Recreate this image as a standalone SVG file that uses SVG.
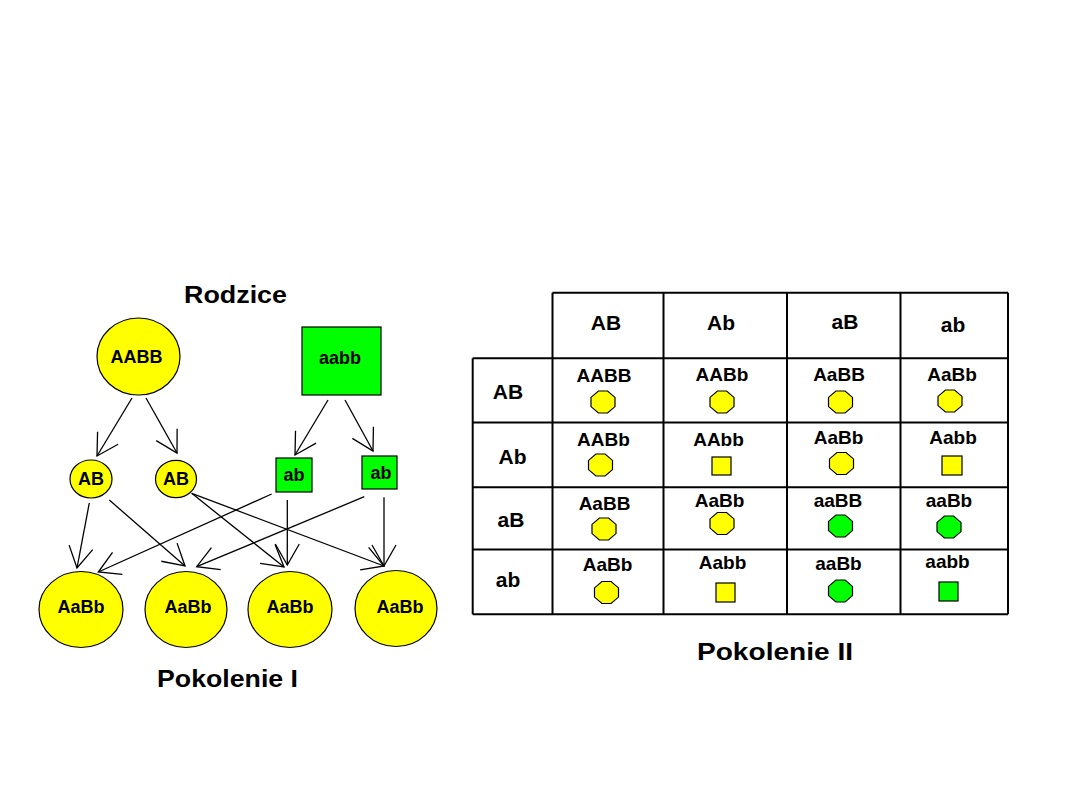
<svg xmlns="http://www.w3.org/2000/svg" width="1080" height="810" viewBox="0 0 1080 810">
<style>
text{font-family:"Liberation Sans",Arial,sans-serif;font-weight:bold;fill:#000;text-anchor:middle}
.title{font-size:24px}
.node{font-size:18px}
.cell{font-size:19px}
.hdr{font-size:21px}
.y{fill:#ffff00;stroke:#000;stroke-width:1.2}
.g{fill:#00ff00;stroke:#000;stroke-width:1.2}
.conn line{stroke:#000;stroke-width:1.3;marker-end:url(#arr)}
.grid line{stroke:#000;stroke-width:2}
</style>
<defs>
<marker id="arr" markerUnits="userSpaceOnUse" markerWidth="24" markerHeight="26" refX="21" refY="12" orient="auto" overflow="visible">
<path d="M0,0 L21,12 L0,24" fill="none" stroke="#000" stroke-width="1.3"/>
</marker>
<polygon id="oct" points="-4.6,-11 4.6,-11 12,-4.6 12,4.6 4.6,11 -4.6,11 -12,4.6 -12,-4.6"/>
</defs>
<rect width="1080" height="810" fill="#fff"/>

<text class="title" x="235.5" y="303" textLength="103" lengthAdjust="spacingAndGlyphs">Rodzice</text>
<text class="title" x="227.5" y="687" textLength="141" lengthAdjust="spacingAndGlyphs">Pokolenie I</text>
<text class="title" x="775" y="660" textLength="156" lengthAdjust="spacingAndGlyphs">Pokolenie II</text>

<g id="connectors" class="conn">
<line x1="132" y1="398" x2="97" y2="456"/>
<line x1="146" y1="398" x2="177" y2="453"/>
<line x1="328" y1="400" x2="295" y2="455"/>
<line x1="345" y1="400" x2="373" y2="451"/>
<line x1="89.3" y1="503" x2="77" y2="568"/>
<line x1="109.3" y1="500" x2="185" y2="566"/>
<line x1="191.7" y1="493.3" x2="284" y2="567"/>
<line x1="191.7" y1="493.3" x2="384" y2="566"/>
<line x1="271.7" y1="494" x2="98.3" y2="572"/>
<line x1="287.3" y1="500" x2="287.3" y2="565"/>
<line x1="364.3" y1="496.7" x2="196.7" y2="566.7"/>
<line x1="384" y1="497.3" x2="384" y2="566"/>
</g>

<g id="p1"><ellipse class="y" cx="138.5" cy="356.5" rx="41.5" ry="38.5"/><text class="node" x="136.5" y="363">AABB</text></g>
<g id="p2"><rect class="g" x="302" y="327" width="79" height="68"/><text class="node" x="340" y="364">aabb</text></g>
<g id="g1"><ellipse class="y" cx="91" cy="479" rx="21" ry="19"/><text class="node" x="91" y="485">AB</text></g>
<g id="g2"><ellipse class="y" cx="176" cy="479" rx="20.5" ry="18.7"/><text class="node" x="176" y="485">AB</text></g>
<g id="g3"><rect class="g" x="276" y="458" width="36" height="34"/><text class="node" x="294" y="480.7">ab</text></g>
<g id="g4"><rect class="g" x="362" y="456" width="35" height="33"/><text class="node" x="381" y="479">ab</text></g>
<g id="f1"><ellipse class="y" cx="81" cy="609.5" rx="42" ry="38"/><text class="node" x="81" y="613">AaBb</text></g>
<g id="f2"><ellipse class="y" cx="186" cy="609.5" rx="41" ry="38"/><text class="node" x="188" y="613">AaBb</text></g>
<g id="f3"><ellipse class="y" cx="290" cy="609.5" rx="42" ry="38"/><text class="node" x="290" y="613">AaBb</text></g>
<g id="f4"><ellipse class="y" cx="396" cy="608.5" rx="41" ry="38"/><text class="node" x="400" y="613">AaBb</text></g>

<g id="table">
<g class="grid">
<line x1="552.5" y1="292.7" x2="1008" y2="292.7"/>
<line x1="472.7" y1="358.3" x2="1008" y2="358.3"/>
<line x1="472.7" y1="422.5" x2="1008" y2="422.5"/>
<line x1="472.7" y1="487.3" x2="1008" y2="487.3"/>
<line x1="472.7" y1="549.5" x2="1008" y2="549.5"/>
<line x1="472.7" y1="614.3" x2="1008" y2="614.3"/>
<line x1="472.7" y1="358.3" x2="472.7" y2="614.3"/>
<line x1="552.5" y1="292.7" x2="552.5" y2="614.3"/>
<line x1="663.5" y1="292.7" x2="663.5" y2="614.3"/>
<line x1="787" y1="292.7" x2="787" y2="614.3"/>
<line x1="900.5" y1="292.7" x2="900.5" y2="614.3"/>
<line x1="1008" y1="292.7" x2="1008" y2="614.3"/>
</g>
<text class="hdr" x="606" y="330">AB</text>
<text class="hdr" x="721" y="330">Ab</text>
<text class="hdr" x="845" y="329">aB</text>
<text class="hdr" x="953" y="332">ab</text>
<text class="hdr" x="508" y="399">AB</text>
<text class="hdr" x="512.5" y="464">Ab</text>
<text class="hdr" x="511" y="527">aB</text>
<text class="hdr" x="508" y="587">ab</text>

<g id="c11"><text class="cell" x="604" y="382">AABB</text><use href="#oct" class="y" x="603" y="402"/></g>
<g id="c12"><text class="cell" x="722" y="381">AABb</text><use href="#oct" class="y" x="722" y="402"/></g>
<g id="c13"><text class="cell" x="839" y="381">AaBB</text><use href="#oct" class="y" x="840.5" y="402"/></g>
<g id="c14"><text class="cell" x="952" y="381">AaBb</text><use href="#oct" class="y" x="950" y="401"/></g>

<g id="c21"><text class="cell" x="603.5" y="445.5">AABb</text><use href="#oct" class="y" x="600.5" y="465"/></g>
<g id="c22"><text class="cell" x="718.5" y="445.5">AAbb</text><rect class="y" x="712" y="457" width="19" height="18"/></g>
<g id="c23"><text class="cell" x="838.5" y="443.5">AaBb</text><use href="#oct" class="y" x="841.5" y="463.5"/></g>
<g id="c24"><text class="cell" x="953" y="443.5">Aabb</text><rect class="y" x="942" y="456" width="20" height="19"/></g>

<g id="c31"><text class="cell" x="604.5" y="510">AaBB</text><use href="#oct" class="y" x="604" y="529"/></g>
<g id="c32"><text class="cell" x="719.5" y="507">AaBb</text><use href="#oct" class="y" x="722" y="523.5"/></g>
<g id="c33"><text class="cell" x="838" y="507">aaBB</text><use href="#oct" class="g" x="840.5" y="526"/></g>
<g id="c34"><text class="cell" x="949" y="507">aaBb</text><use href="#oct" class="g" x="949" y="527"/></g>

<g id="c41"><text class="cell" x="607.5" y="571">AaBb</text><use href="#oct" class="y" x="606.5" y="592.5"/></g>
<g id="c42"><text class="cell" x="722.5" y="569">Aabb</text><rect class="y" x="716" y="583" width="19" height="19"/></g>
<g id="c43"><text class="cell" x="838.5" y="570">aaBb</text><use href="#oct" class="g" x="840.5" y="591"/></g>
<g id="c44"><text class="cell" x="947.5" y="568">aabb</text><rect class="g" x="939" y="582" width="19" height="19"/></g>
</g>
</svg>
